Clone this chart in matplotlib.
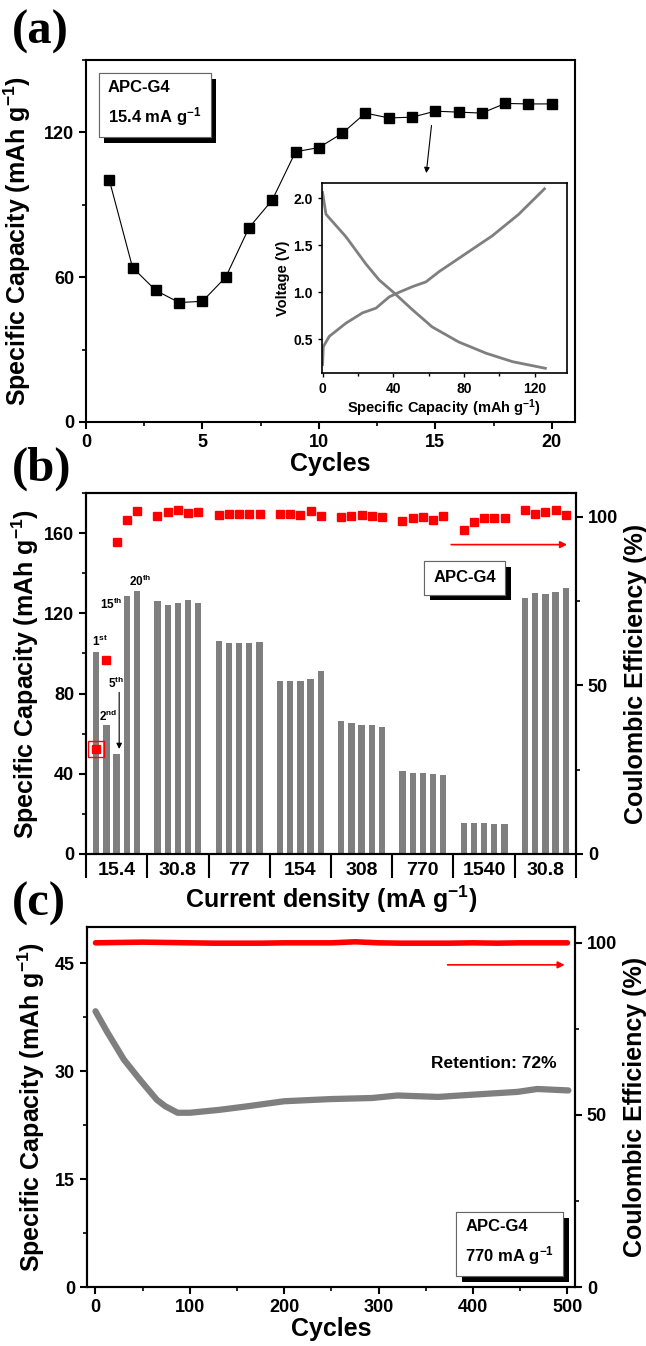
import numpy as np
import matplotlib
matplotlib.use("Agg")
import matplotlib.pyplot as plt
import matplotlib.patheffects as pe
from matplotlib.ticker import MultipleLocator, FixedLocator

plt.rcParams['font.family'] = ['Liberation Sans', 'DejaVu Sans']
plt.rcParams['font.weight'] = 'bold'
plt.rcParams['mathtext.fontset'] = 'custom'
plt.rcParams['mathtext.rm'] = 'Liberation Sans:bold'
plt.rcParams['mathtext.it'] = 'Liberation Sans:bold'
plt.rcParams['mathtext.bf'] = 'Liberation Sans:bold'
plt.rcParams['mathtext.default'] = 'rm'
plt.rcParams['axes.linewidth'] = 1.5

# ---- (a) cycling at 15.4 mA/g ----
cycles_a = list(range(1, 21))
cap_a = [100.3, 64, 54.5, 49.5, 50, 60, 80.5, 92, 112, 113.7,
         119.6, 128, 126, 126.3, 128.8, 128.4, 128, 132, 131.8, 131.8]

# inset: charge / discharge profile
dis_cap = [0, 1.9, 13.2, 24.5, 32, 40.6, 51, 62, 77, 92.5, 107.5, 126]
dis_v = [2.06, 1.83, 1.59, 1.30, 1.13, 0.99, 0.81, 0.63, 0.47, 0.35, 0.26, 0.19]
chg_cap = [0, 0.4, 3.8, 13.2, 22.6, 30.2, 37.7, 43.4, 51, 58.5, 66, 81, 96, 111, 125.5]
chg_v = [0.23, 0.42, 0.53, 0.67, 0.78, 0.83, 0.95, 1.0, 1.06, 1.11, 1.22, 1.41, 1.60, 1.83, 2.10]

# ---- (b) rate capability ----
rate_labels = ['15.4', '30.8', '77', '154', '308', '770', '1540', '30.8']
rate_cap = [100.5, 64.2, 50, 128.5, 131.3,
            126.3, 124, 125, 126.7, 125.2,
            106.2, 105.3, 105, 105.3, 105.7,
            86.5, 86.5, 86.5, 87.3, 91,
            66.5, 65.3, 64.2, 64.2, 63.5,
            41.2, 40.5, 40.2, 39.8, 39.2,
            15.5, 15.5, 15.5, 15.2, 15.2,
            127.5, 130.2, 129.5, 130.5, 132.8]
rate_ce = [31.1, 57.6, 92.4, 98.9, 101.7,
           100.3, 101.5, 102.1, 101.1, 101.5,
           100.6, 100.8, 100.9, 100.8, 100.8,
           100.9, 100.7, 100.5, 101.8, 100.3,
           99.9, 100.1, 100.5, 100.3, 99.9,
           98.7, 99.5, 99.9, 99.1, 100.1,
           95.9, 98.5, 99.5, 99.7, 99.7,
           101.9, 100.9, 101.3, 101.9, 100.5]

# ---- (c) long cycling at 770 mA/g ----
cyc_c = [0, 12, 30, 47, 65, 74, 87, 100, 131, 161, 200, 249, 293, 320, 363, 398, 447, 468, 501]
cap_c = [38.3, 35.5, 31.6, 28.8, 26.0, 25.1, 24.2, 24.2, 24.6, 25.1, 25.8, 26.1, 26.25,
         26.6, 26.4, 26.7, 27.1, 27.5, 27.3]
cyc_ce = [0, 25, 50, 75, 100, 125, 150, 175, 200, 225, 250, 275, 300, 325, 350, 375,
          400, 425, 450, 475, 500]
ce_c = [100.0, 100.1, 100.2, 100.1, 100.0, 99.9, 99.9, 99.9, 100.0, 100.0, 100.0, 100.3,
        100.0, 99.9, 99.9, 99.9, 100.0, 99.9, 100.0, 100.0, 100.0]

GRAY = '#7f7f7f'
RED = '#ff0000'

fig = plt.figure(figsize=(6.46, 13.46), dpi=100)


def style_ticks(ax, which_sides=('left', 'bottom')):
    ax.tick_params(axis='both', which='major', direction='out', length=5, width=1.5,
                   labelsize=13)
    ax.tick_params(axis='both', which='minor', direction='out', length=3, width=1.2)
    for lab in ax.get_xticklabels() + ax.get_yticklabels():
        lab.set_fontweight('bold')


def shadow_box(ax, x, y, text, size=12, ha='left', va='top', ls=1.6):
    t = ax.text(x, y, text, transform=ax.transAxes, ha=ha, va=va, fontsize=size,
                fontweight='bold', linespacing=ls,
                bbox=dict(boxstyle='square,pad=0.55', fc='white', ec='#666666', lw=0.8))
    t.get_bbox_patch().set_path_effects(
        [pe.withSimplePatchShadow(offset=(4, -4), shadow_rgbFace='black', alpha=1.0),
         pe.Normal()])
    return t


# ================= (a) =================
ax1 = fig.add_axes([86 / 646, 1 - 422 / 1346, 489 / 646, 362 / 1346])
ax1.plot(cycles_a, cap_a, '-', color='black', lw=0.8, marker='s', ms=7, mfc='black', mec='black')
ax1.set_xlim(0, 21)
ax1.set_ylim(0, 150)
ax1.xaxis.set_major_locator(MultipleLocator(5))
ax1.xaxis.set_minor_locator(MultipleLocator(2.5))
ax1.yaxis.set_major_locator(MultipleLocator(60))
ax1.yaxis.set_minor_locator(MultipleLocator(30))
ax1.tick_params(top=False, right=False)
style_ticks(ax1)
ax1.set_xlabel('Cycles', fontsize=18, fontweight='bold', labelpad=1)
ax1.set_ylabel('Specific Capacity (mAh g$^{-1}$)', fontsize=18, fontweight='bold', labelpad=8)
shadow_box(ax1, 0.045, 0.945, 'APC-G4\n15.4 mA g$^{-1}$', size=12)
ax1.annotate('', xy=(14.6, 102), xytext=(14.85, 124),
             arrowprops=dict(arrowstyle='-|>', color='black', lw=0.8, mutation_scale=8))

ins = fig.add_axes([0.498, 0.7229, 0.379, 0.141])
ins.plot(dis_cap, dis_v, color=GRAY, lw=2)
ins.plot(chg_cap, chg_v, color=GRAY, lw=2)
ins.set_xlim(-0.5, 138)
ins.set_ylim(0.14, 2.16)
ins.xaxis.set_major_locator(MultipleLocator(40))
ins.xaxis.set_minor_locator(MultipleLocator(20))
ins.yaxis.set_major_locator(MultipleLocator(0.5))
ins.tick_params(axis='both', which='major', direction='out', length=3, width=1, labelsize=10)
ins.tick_params(axis='both', which='minor', direction='out', length=2, width=1)
for s in ins.spines.values():
    s.set_linewidth(1.2)
for lab in ins.get_xticklabels() + ins.get_yticklabels():
    lab.set_fontweight('bold')
ins.set_xlabel('Specific Capacity (mAh g$^{-1}$)', fontsize=10.5, fontweight='bold', labelpad=1)
ins.set_ylabel('Voltage (V)', fontsize=10.5, fontweight='bold', labelpad=2)

# ================= (b) =================
ax2 = fig.add_axes([86 / 646, 1 - 854 / 1346, 490 / 646, 361 / 1346])
pos = [g * 6 + i + 1 for g in range(len(rate_labels)) for i in range(5)]
ax2.bar(pos, rate_cap, width=0.62, color=GRAY, zorder=2)
ax2.set_xlim(0, 48)
ax2.set_ylim(0, 180)
ax2.yaxis.set_major_locator(MultipleLocator(40))
ax2.yaxis.set_minor_locator(MultipleLocator(20))
ax2.xaxis.set_major_locator(FixedLocator(list(range(0, 49, 6))))
ax2.xaxis.set_minor_locator(FixedLocator([g * 6 + 3 for g in range(len(rate_labels))]))
ax2.xaxis.set_major_formatter(plt.NullFormatter())
ax2.set_xticklabels(rate_labels, minor=True)
ax2.tick_params(axis='y', which='major', direction='out', length=5, width=1.5, labelsize=13)
ax2.tick_params(axis='y', which='minor', direction='out', length=3, width=1.2)
ax2.tick_params(axis='x', which='major', direction='out', length=17, width=1.5)
ax2.tick_params(axis='x', which='minor', length=0, labelsize=14, pad=6)
ax2.tick_params(top=False, right=False)
for lab in ax2.get_yticklabels() + ax2.get_xticklabels(minor=True):
    lab.set_fontweight('bold')
ax2.set_xlabel('Current density (mA g$^{-1}$)', fontsize=18, fontweight='bold', labelpad=1)
ax2.set_ylabel('Specific Capacity (mAh g$^{-1}$)', fontsize=18, fontweight='bold', labelpad=2)

ax2b = ax2.twinx()
ax2b.plot(pos, rate_ce, 's', color=RED, ms=6, zorder=3)
ax2b.plot(pos[0], rate_ce[0], 's', mfc='none', mec=RED, ms=11, mew=1)
ax2b.set_ylim(0, 107)
ax2b.yaxis.set_major_locator(MultipleLocator(50))
ax2b.yaxis.set_minor_locator(MultipleLocator(25))
ax2b.tick_params(axis='y', which='major', direction='out', length=5, width=1.5, labelsize=13)
ax2b.tick_params(axis='y', which='minor', direction='out', length=3, width=1.2)
for lab in ax2b.get_yticklabels():
    lab.set_fontweight('bold')
ax2b.set_ylabel('Coulombic Efficiency (%)', fontsize=18, fontweight='bold', labelpad=4)
ax2b.annotate('', xy=(47.4, 91.7), xytext=(35.5, 91.7),
              arrowprops=dict(arrowstyle='-|>', color=RED, lw=1.2, mutation_scale=10))
shadow_box(ax2, 0.773, 0.765, 'APC-G4', size=12, ha='center', va='center')

ann = dict(fontsize=8.5, fontweight='bold', ha='center', va='center')
ax2.text(1.4, 106, '1$^{st}$', **ann)
ax2.text(2.15, 68.5, '2$^{nd}$', **ann)
ax2.text(2.9, 85, '5$^{th}$', **ann)
ax2.text(2.5, 124.5, '15$^{th}$', **ann)
ax2.text(5.3, 136, '20$^{th}$', **ann)
ax2.annotate('', xy=(3.25, 51), xytext=(3.25, 82),
             arrowprops=dict(arrowstyle='-|>', color='black', lw=0.8, mutation_scale=8))

# ================= (c) =================
ax3 = fig.add_axes([87 / 646, 1 - 1287 / 1346, 488 / 646, 360 / 1346])
ax3.plot(cyc_c, cap_c, color=GRAY, lw=4.5, solid_capstyle='round')
ax3.set_xlim(-9, 508)
ax3.set_ylim(0, 50)
ax3.xaxis.set_major_locator(MultipleLocator(100))
ax3.xaxis.set_minor_locator(MultipleLocator(50))
ax3.yaxis.set_major_locator(MultipleLocator(15))
ax3.yaxis.set_minor_locator(MultipleLocator(7.5))
ax3.tick_params(top=False, right=False)
style_ticks(ax3)
ax3.set_xlabel('Cycles', fontsize=18, fontweight='bold', labelpad=1)
ax3.set_ylabel('Specific Capacity (mAh g$^{-1}$)', fontsize=18, fontweight='bold', labelpad=6)
ax3.text(422, 31.0, 'Retention: 72%', fontsize=12.5, fontweight='bold', ha='center', va='center')
shadow_box(ax3, 0.775, 0.19, 'APC-G4\n770 mA g$^{-1}$', size=12, ha='left', va='top')

ax3b = ax3.twinx()
ax3b.plot(cyc_ce, ce_c, color=RED, lw=4, solid_capstyle='round')
ax3b.set_ylim(0, 104.6)
ax3b.yaxis.set_major_locator(MultipleLocator(50))
ax3b.yaxis.set_minor_locator(MultipleLocator(25))
ax3b.tick_params(axis='y', which='major', direction='out', length=5, width=1.5, labelsize=13)
ax3b.tick_params(axis='y', which='minor', direction='out', length=3, width=1.2)
for lab in ax3b.get_yticklabels():
    lab.set_fontweight('bold')
ax3b.set_ylabel('Coulombic Efficiency (%)', fontsize=18, fontweight='bold', labelpad=4)
ax3b.annotate('', xy=(500, 93.6), xytext=(370, 93.6),
              arrowprops=dict(arrowstyle='-|>', color=RED, lw=1.2, mutation_scale=10))

# panel letters
for lbl, ypx in [('(a)', 10), ('(b)', 447), ('(c)', 882)]:
    fig.text(12 / 646, 1 - ypx / 1346, lbl, fontsize=35, fontweight='bold',
             family=['Liberation Serif', 'DejaVu Serif'], ha='left', va='top')

fig.savefig('out.png', dpi=100)
